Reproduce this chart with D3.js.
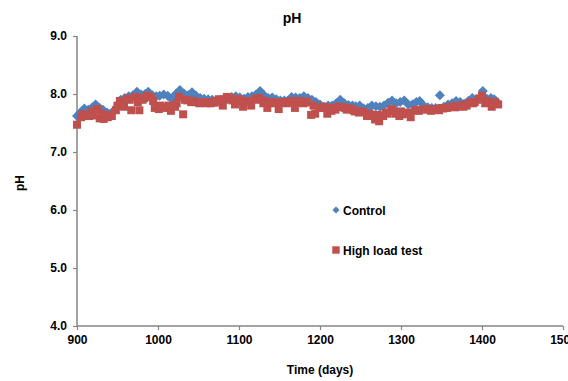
<!DOCTYPE html>
<html>
<head>
<meta charset="utf-8">
<script src="https://cdn.jsdelivr.net/npm/d3@7"></script>
<style>
  body { margin: 0; background: #fff; }
  text { font-family: "Liberation Sans", Arial, sans-serif; font-weight: bold; fill: #000; }
</style>
</head>
<body>
<div id="chart"></div>
<script>
(function(){

const controlDays = [900,904,909,914,919,923,928,932,937,941,946,951,954,959,964,969,974,979,984,988,
  993,998,1002,1007,1012,1017,1022,1027,1032,1037,1042,1047,1052,1057,1062,1067,1072,1077,1081,1086,
  1091,1096,1101,1106,1111,1116,1121,1126,1131,1136,1141,1146,1151,1156,1160,1165,1170,1175,1180,1185,
  1190,1195,1200,1205,1210,1215,1220,1225,1230,1235,1240,1244,1249,1254,1259,1264,1269,1274,1279,1284,
  1289,1294,1299,1304,1309,1314,1319,1323,1328,1333,1338,1343,1348,1353,1358,1363,1368,1373,1378,1383,
  1388,1393,1398,1401,1406,1411,1415,1418];
const controlPH = [7.62,7.68,7.75,7.73,7.77,7.82,7.76,7.73,7.68,7.66,7.72,7.80,7.90,7.93,7.96,7.98,8.04,7.99,8.00,8.04,
  7.98,7.96,7.97,7.99,7.97,7.91,8.00,8.07,8.01,7.98,8.03,7.97,7.93,7.92,7.91,7.90,7.88,7.90,7.91,7.92,
  7.95,7.96,7.94,7.92,7.95,7.96,7.99,8.05,7.98,7.93,7.94,7.91,7.89,7.89,7.88,7.95,7.94,7.93,7.96,7.93,
  7.90,7.86,7.82,7.78,7.80,7.80,7.84,7.90,7.84,7.81,7.80,7.79,7.80,7.75,7.76,7.80,7.79,7.78,7.80,7.85,
  7.89,7.84,7.86,7.89,7.82,7.82,7.86,7.88,7.80,7.77,7.76,7.76,7.98,7.78,7.82,7.84,7.88,7.86,7.83,7.88,
  7.93,7.91,7.95,8.05,7.92,7.93,7.91,7.87];

const highDays = [900,905,910,915,920,925,928,933,938,943,948,953,958,962,967,972,977,981,986,991,
  996,1001,1006,1011,1016,1021,1026,1031,1036,1041,1046,1051,1056,1060,1065,1070,1075,1080,1085,1090,
  1095,1100,1105,1110,1115,1120,1125,1130,1135,1140,1144,1149,1154,1159,1164,1169,1174,1179,1184,1189,
  1194,1199,1204,1209,1214,1219,1223,1228,1233,1238,1243,1248,1253,1258,1263,1268,1273,1278,1283,1288,
  1293,1298,1302,1307,1312,1317,1322,1327,1332,1337,1342,1347,1352,1357,1362,1367,1372,1377,1381,1386,
  1391,1396,1400,1404,1409,1412,1416,1420,
  // second, denser pass read along the upper edge of the red band
  907,918,930,940,950,956,965,975,983,994,1003,1013,1023,1033,1043,1053,1063,1072,1082,1092,
  1102,1112,1122,1132,1142,1152,1162,1172,1182,1192,1202,1212,1222,1231,1241,1251,1261,1271,1281,1291,
  1300,1310,1320,1330,1340,1350,1360,1370,1379,1389,1398,1407,1414];
const highPH = [7.47,7.60,7.62,7.62,7.63,7.74,7.58,7.57,7.60,7.62,7.72,7.88,7.78,7.92,7.72,7.95,7.72,7.90,7.97,7.95,
  7.76,7.74,7.77,7.76,7.71,7.78,7.95,7.65,7.89,7.86,7.86,7.84,7.85,7.84,7.84,7.85,7.91,7.80,7.95,7.93,
  7.82,7.91,7.78,7.88,7.80,7.92,7.93,7.84,7.76,7.85,7.84,7.74,7.86,7.84,7.88,7.76,7.88,7.84,7.87,7.64,
  7.66,7.76,7.78,7.66,7.71,7.73,7.78,7.77,7.73,7.75,7.70,7.68,7.69,7.62,7.64,7.56,7.53,7.62,7.66,7.74,
  7.66,7.62,7.65,7.66,7.60,7.72,7.71,7.73,7.74,7.71,7.74,7.72,7.75,7.76,7.78,7.77,7.79,7.78,7.80,7.86,
  7.86,7.92,7.97,7.84,7.86,7.78,7.86,7.82,
  7.65,7.70,7.66,7.64,7.80,7.86,7.90,7.86,7.93,7.88,7.80,7.80,7.84,7.90,7.88,7.86,7.86,7.88,7.90,7.89,
  7.88,7.87,7.90,7.88,7.86,7.85,7.86,7.87,7.85,7.80,7.76,7.76,7.78,7.76,7.72,7.70,7.66,7.64,7.68,7.70,
  7.70,7.68,7.72,7.74,7.74,7.76,7.78,7.80,7.82,7.84,7.90,7.88,7.84];

const xTicks = [900,1000,1100,1200,1300,1400,1500];
const yTicks = [4,5,6,7,8,9];
const seriesNames = ["Control","High load test"];

const width = 568, height = 381;
const margin = {left: 77, right: 5, top: 36, bottom: 55};

const svg = d3.select("#chart").append("svg")
  .attr("width", width)
  .attr("height", height);

const x = d3.scaleLinear().domain([900,1500]).range([margin.left, width - margin.right]);
const y = d3.scaleLinear().domain([4,9]).range([height - margin.bottom, margin.top]);

const axisColor = "#868686";

// axes
const yAxis = svg.append("g")
  .attr("transform", `translate(${margin.left},0)`)
  .call(d3.axisLeft(y).tickValues(yTicks).tickFormat(d3.format(".1f")).tickSize(4).tickPadding(6));
const xAxis = svg.append("g")
  .attr("transform", `translate(0,${y(4)})`)
  .call(d3.axisBottom(x).tickValues(xTicks).tickSize(4).tickPadding(5).tickFormat(d3.format("d")));

[xAxis, yAxis].forEach(g => {
  g.select(".domain").attr("stroke", axisColor).attr("stroke-width", 1.5);
  g.selectAll(".tick line").attr("stroke", axisColor).attr("stroke-width", 1.2);
  g.selectAll("text").attr("font-size", 12).attr("font-family", "Liberation Sans, Arial, sans-serif").attr("font-weight", "bold").attr("fill", "#000");
});
xAxis.select(".domain").attr("d", `M${x(900)},0H${x(1500)}`);
yAxis.select(".domain").attr("d", `M0,${y(9)}V${y(4)}`);

const control = controlDays.map((d, i) => ({day: d, ph: controlPH[i]}));
const high = highDays.map((d, i) => ({day: d, ph: highPH[i]}));

const diamond = "M0,-5L5,0L0,5L-5,0Z";
const square = "M-4,-4H4V4H-4Z";

svg.append("g").selectAll("path")
  .data(control)
  .enter().append("path")
  .attr("d", diamond)
  .attr("fill", "#4F81BD")
  .attr("transform", d => `translate(${x(d.day)},${y(d.ph)})`);

svg.append("g").selectAll("path")
  .data(high)
  .enter().append("path")
  .attr("d", square)
  .attr("fill", "#C0504D")
  .attr("transform", d => `translate(${x(d.day)},${y(d.ph)})`);

// titles
svg.append("text")
  .attr("x", 292).attr("y", 23)
  .attr("text-anchor", "middle")
  .attr("font-size", 14)
  .text("pH");

svg.append("text")
  .attr("x", 320).attr("y", 374)
  .attr("text-anchor", "middle")
  .attr("font-size", 12)
  .text("Time (days)");

svg.append("text")
  .attr("transform", "translate(24,183) rotate(-90)")
  .attr("text-anchor", "middle")
  .attr("font-size", 12)
  .text("pH");

// legend
const legend = svg.append("g");
legend.append("path").attr("d", "M0,-3.6L3.6,0L0,3.6L-3.6,0Z").attr("fill", "#4F81BD")
  .attr("transform", "translate(336,210)");
legend.append("text").attr("x", 343).attr("y", 215).attr("font-size", 12).text(seriesNames[0]);
legend.append("path").attr("d", "M-3.7,-3.7H3.7V3.7H-3.7Z").attr("fill", "#C0504D")
  .attr("transform", "translate(336,250)");
legend.append("text").attr("x", 343).attr("y", 255).attr("font-size", 12).text(seriesNames[1]);

})();
</script>
</body>
</html>
